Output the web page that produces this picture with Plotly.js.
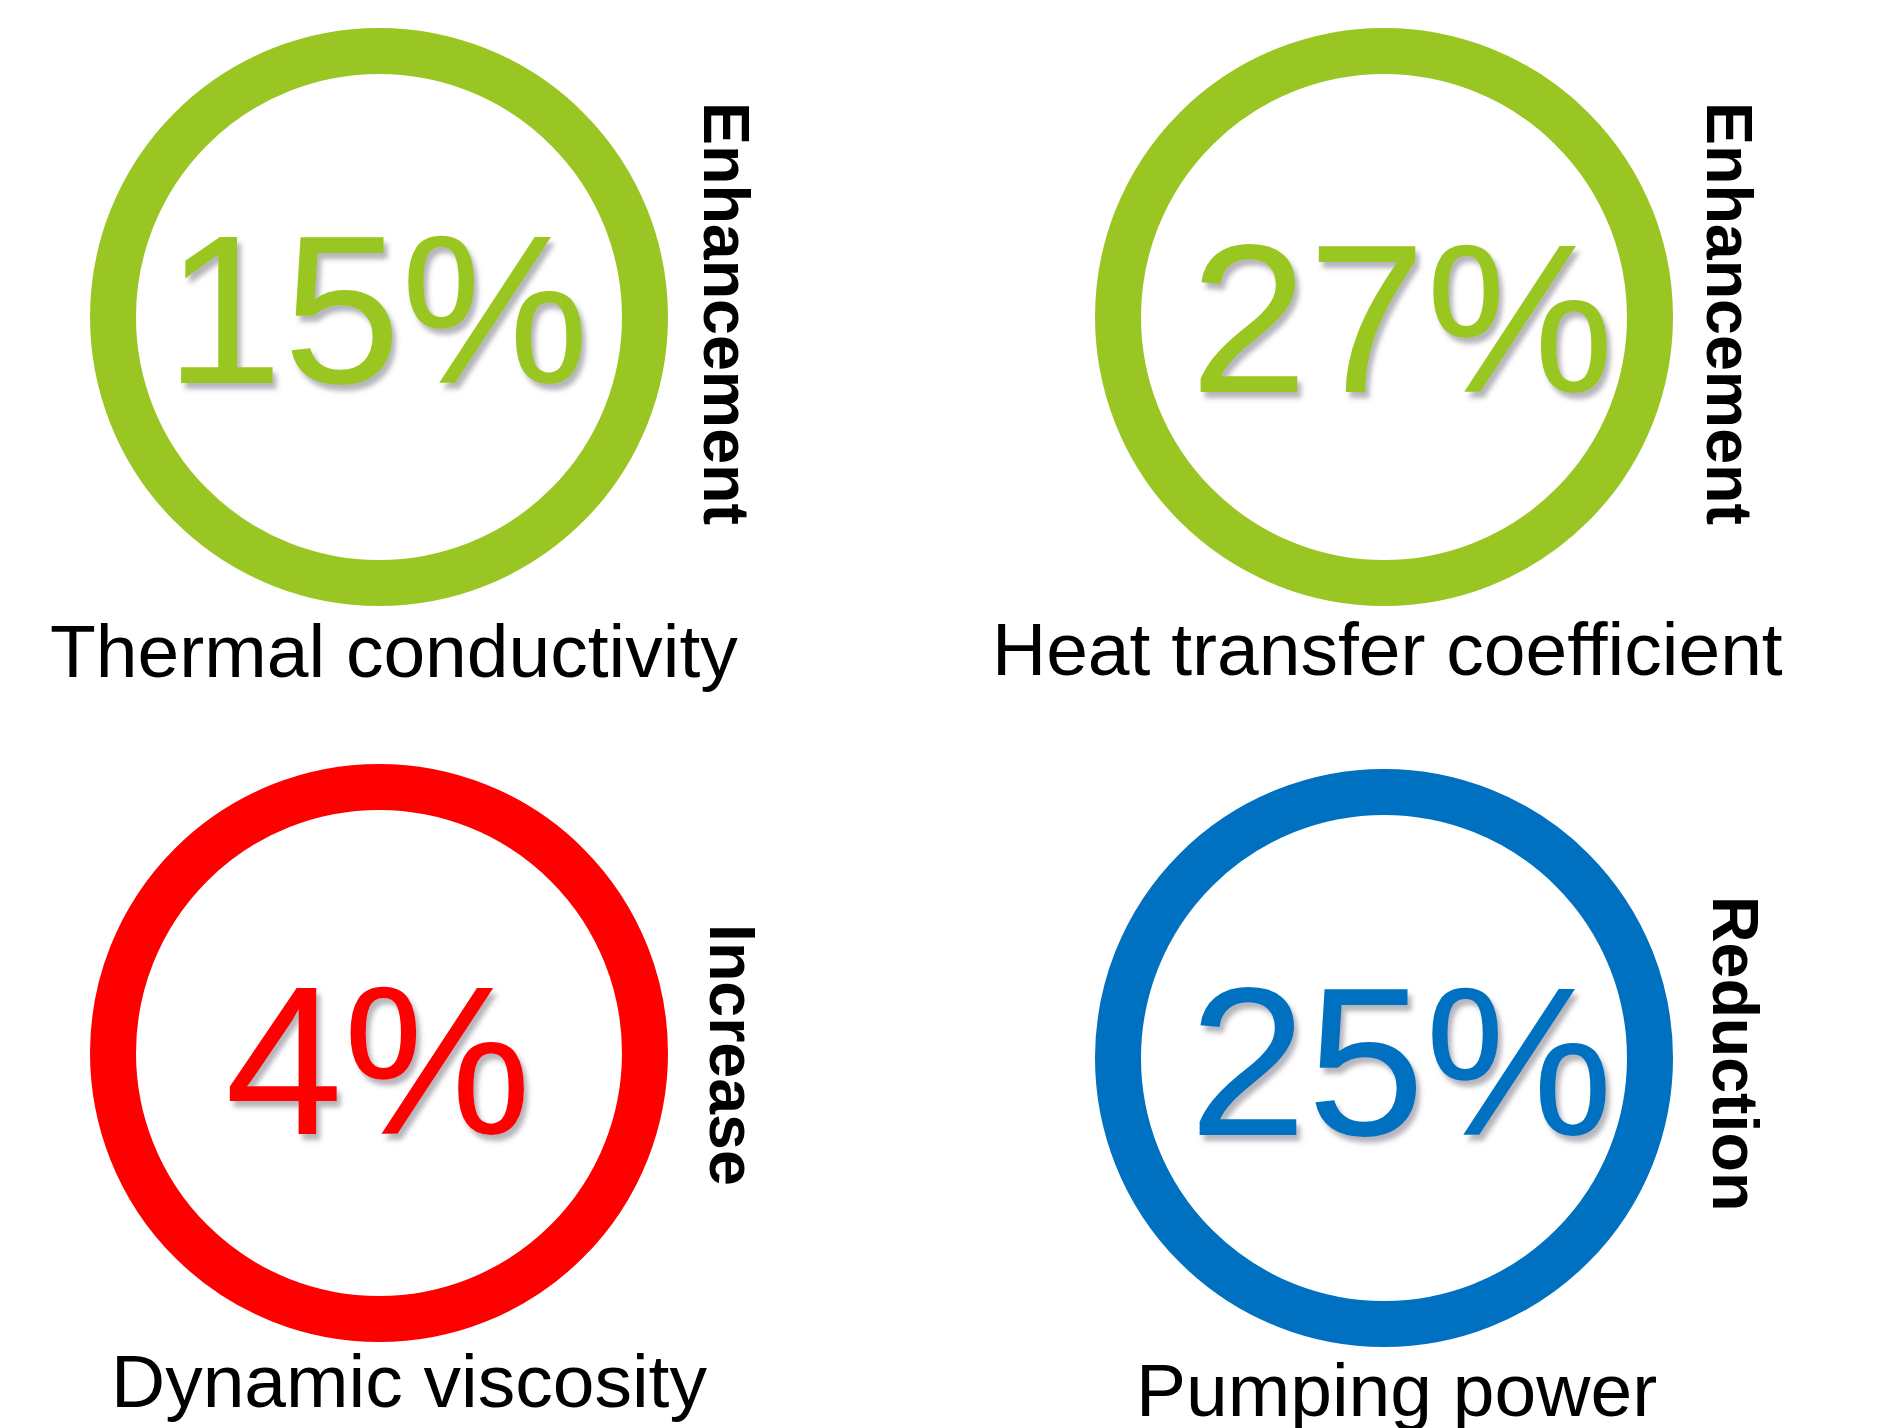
<!DOCTYPE html>
<html>
<head>
<meta charset="utf-8">
<script src="https://cdn.plot.ly/plotly-3.0.1.min.js"></script>
<style>
  html, body { margin: 0; padding: 0; background: #ffffff; }
  #chart { width: 1880px; height: 1428px; }
</style>
</head>
<body>
<div id="chart"></div>
<script>
// Nanofluid performance summary: one ring per property
const properties = ["Thermal conductivity", "Heat transfer coefficient", "Dynamic viscosity", "Pumping power"];
const changePercent = [15, 27, 4, 25];
const changeKind = ["Enhancement", "Enhancement", "Increase", "Reduction"];
const ringColors = ["#9AC623", "#9AC623", "#FF0000", "#0070C0"];

// Layout of the four panels, in page pixels
const W = 1880, H = 1428;
const ringCenters = [[379, 317], [1384, 317], [379, 1053], [1384, 1058]];
const ringRadius = 266;      // centre line of the ring
const ringWidth = 46;
const valueCenters = [[377, 309], [1402, 318], [378, 1060], [1401, 1061]];
const kindCenters = [[726, 313], [1729, 313], [732, 1055], [1735, 1053]];
const nameCenters = [[394, 651], [1387, 649], [409, 1381], [1396, 1390]];

const FONT = "Liberation Sans, Arial, Helvetica, sans-serif";

const shapes = changePercent.map((v, i) => ({
  type: "circle",
  xref: "x", yref: "y",
  x0: ringCenters[i][0] - ringRadius, x1: ringCenters[i][0] + ringRadius,
  y0: ringCenters[i][1] - ringRadius, y1: ringCenters[i][1] + ringRadius,
  line: { color: ringColors[i], width: ringWidth },
  fillcolor: "rgba(0,0,0,0)",
  layer: "below"
}));

const annotations = [];
changePercent.forEach((v, i) => {
  annotations.push({
    x: valueCenters[i][0], y: valueCenters[i][1], xref: "x", yref: "y",
    text: v + "%", showarrow: false, xanchor: "center", yanchor: "middle",
    font: { family: FONT, size: 212, color: ringColors[i] }
  });
});
changeKind.forEach((k, i) => {
  annotations.push({
    x: kindCenters[i][0], y: kindCenters[i][1], xref: "x", yref: "y",
    text: "<b>" + k + "</b>", showarrow: false, textangle: 90,
    xanchor: "center", yanchor: "middle",
    font: { family: FONT, size: 64.5, color: "#000000" }
  });
});
properties.forEach((p, i) => {
  annotations.push({
    x: nameCenters[i][0], y: nameCenters[i][1], xref: "x", yref: "y",
    text: p, showarrow: false, xanchor: "center", yanchor: "middle",
    font: { family: FONT, size: 75, color: "#000000" }
  });
});

const layout = {
  width: W, height: H,
  margin: { l: 0, r: 0, t: 0, b: 0, pad: 0 },
  paper_bgcolor: "#ffffff", plot_bgcolor: "#ffffff",
  showlegend: false,
  xaxis: { range: [0, W], visible: false, fixedrange: true },
  yaxis: { range: [H, 0], visible: false, fixedrange: true },
  shapes: shapes,
  annotations: annotations
};

// invisible anchor trace so the axes exist
const data = [{ x: [0, W], y: [0, H], mode: "markers", marker: { opacity: 0 }, hoverinfo: "skip", type: "scatter" }];

Plotly.newPlot("chart", data, layout, { staticPlot: true }).then(gd => {
  // soft drop shadow under the big percentage figures
  const svg = gd.querySelector("svg.main-svg");
  const ns = "http://www.w3.org/2000/svg";
  let defs = svg.querySelector("defs");
  if (!defs) { defs = document.createElementNS(ns, "defs"); svg.insertBefore(defs, svg.firstChild); }
  const f = document.createElementNS(ns, "filter");
  f.setAttribute("id", "valueShadow");
  f.setAttribute("x", "-10%"); f.setAttribute("y", "-10%");
  f.setAttribute("width", "130%"); f.setAttribute("height", "130%");
  f.innerHTML =
    '<feGaussianBlur in="SourceAlpha" stdDeviation="2.5" result="b"/>' +
    '<feOffset in="b" dx="4" dy="6" result="o"/>' +
    '<feFlood flood-color="#5a5a6a" flood-opacity="0.45" result="c"/>' +
    '<feComposite in="c" in2="o" operator="in" result="s"/>' +
    '<feMerge><feMergeNode in="s"/><feMergeNode in="SourceGraphic"/></feMerge>';
  defs.appendChild(f);
  gd.querySelectorAll("g.annotation").forEach(g => {
    const idx = +g.getAttribute("data-index");
    if (idx < changePercent.length) {
      const t = g.querySelector("text.annotation-text");
      if (t) t.setAttribute("filter", "url(#valueShadow)");
    }
  });
});
</script>
</body>
</html>
